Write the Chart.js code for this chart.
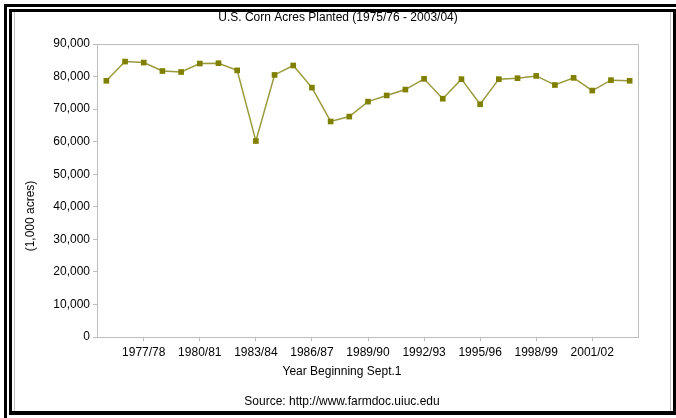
<!DOCTYPE html>
<html><head><meta charset="utf-8">
<script src="https://cdn.jsdelivr.net/npm/chart.js@4.4.1/dist/chart.umd.min.js"></script>
<style>
html,body{margin:0;padding:0;background:#fff;}
#wrap{position:relative;width:676px;height:418px;overflow:hidden;background:#fff;}
canvas{position:absolute;left:0;top:0;}
.f{position:absolute;background:#000;}
.g{position:absolute;background:#c4c4c4;}
</style></head><body>
<div id="wrap">
<canvas id="c" width="676" height="418"></canvas>
<div class="f" style="left:4px;top:4px;width:672px;height:3px"></div>
<div class="f" style="left:4px;top:4px;width:3px;height:414px"></div>
<div class="f" style="left:9px;top:9px;width:667px;height:3px"></div>
<div class="f" style="left:9px;top:9px;width:3px;height:405px"></div>
<div class="f" style="left:9px;top:411px;width:667px;height:4px"></div>
<div class="f" style="left:673px;top:12px;width:3px;height:403px"></div>
<div class="g" style="left:14px;top:12px;width:1px;height:399px"></div>
<div class="g" style="left:670px;top:12px;width:1px;height:399px"></div>
</div>
<script>
const chartTitle = 'U.S. Corn Acres Planted (1975/76 - 2003/04)';
const xTitle = 'Year Beginning Sept.1';
const yTitle = '(1,000 acres)';
const sourceNote = 'Source: http://www.farmdoc.uiuc.edu';

const years = ['1975/76','1976/77','1977/78','1978/79','1979/80','1980/81','1981/82','1982/83','1983/84','1984/85',
  '1985/86','1986/87','1987/88','1988/89','1989/90','1990/91','1991/92','1992/93','1993/94','1994/95',
  '1995/96','1996/97','1997/98','1998/99','1999/00','2000/01','2001/02','2002/03','2003/04'];
const acresPlanted = [78700,84600,84300,81700,81400,84000,84100,81900,60200,80500,
  83400,76600,66200,67700,72300,74200,76000,79300,73200,79200,
  71500,79200,79500,80200,77400,79600,75700,78900,78700];
const shownTicks = ['1977/78','1980/81','1983/84','1986/87','1989/90','1992/93','1995/96','1998/99','2001/02'];
const yTickValues = [0,10000,20000,30000,40000,50000,60000,70000,80000,90000];

const FONT = {family:'"Liberation Sans", Arial, sans-serif', size:12};
const GRAY = '#bdbdbd';

const framePlugin = {
  id:'plotFrame',
  beforeDatasetsDraw(chart){
    const a = chart.chartArea, ctx = chart.ctx;
    ctx.save(); ctx.strokeStyle = GRAY; ctx.lineWidth = 1;
    ctx.strokeRect(Math.round(a.left)+0.5, Math.round(a.top)+0.5, Math.round(a.right-a.left)-1, Math.round(a.bottom-a.top));
    ctx.restore();
  }
};
const textPlugin = {
  id:'texts',
  afterDraw(chart){
    const ctx = chart.ctx; ctx.save();
    ctx.fillStyle = '#000';
    ctx.font = FONT.size + 'px ' + FONT.family;
    ctx.textAlign = 'center'; ctx.textBaseline = 'middle';
    ctx.fillText(chartTitle, 338, 18);
    ctx.fillText(xTitle, 342, 372);
    ctx.fillText(sourceNote, 342, 402);
    ctx.translate(31, 216); ctx.rotate(-Math.PI/2);
    ctx.fillText(yTitle, 0, 0);
    ctx.restore();
  }
};

new Chart(document.getElementById('c'), {
  type:'line',
  data:{
    labels: years,
    datasets:[{
      data: acresPlanted,
      borderColor:'#9a9a3c', borderWidth:1.5, tension:0,
      pointStyle:'rect', pointRadius:4, pointBorderWidth:0,
      pointBackgroundColor:'#808000', pointBorderColor:'#808000'
    }]
  },
  options:{
    responsive:false, animation:false, devicePixelRatio:1,
    layout:{padding:{top:44, right:37, bottom:0, left:0}},
    plugins:{legend:{display:false}, title:{display:false}, tooltip:{enabled:false}},
    scales:{
      x:{
        type:'category', offset:true,
        grid:{display:true, drawOnChartArea:false, drawTicks:true, tickLength:4, offset:false,
          color:(c)=> shownTicks.includes(years[c.index]) ? GRAY : 'rgba(0,0,0,0)'},
        border:{display:false},
        ticks:{autoSkip:false, maxRotation:0, minRotation:0, padding:4, color:'#000', font:FONT,
          callback:function(v){ const l = this.getLabelForValue(v); return shownTicks.includes(l) ? l : ''; }},
        afterFit(s){ s.height = 81; }
      },
      y:{
        min:0, max:90000,
        afterBuildTicks(s){ s.ticks = yTickValues.map(v=>({value:v})); },
        grid:{display:true, drawOnChartArea:false, drawTicks:true, tickLength:4, color:GRAY},
        border:{display:false},
        ticks:{padding:3, color:'#000', font:FONT, callback:(v)=> v.toLocaleString('en-US')},
        afterFit(s){ s.width = 97; }
      }
    }
  },
  plugins:[framePlugin, textPlugin]
});
</script>
</body></html>
